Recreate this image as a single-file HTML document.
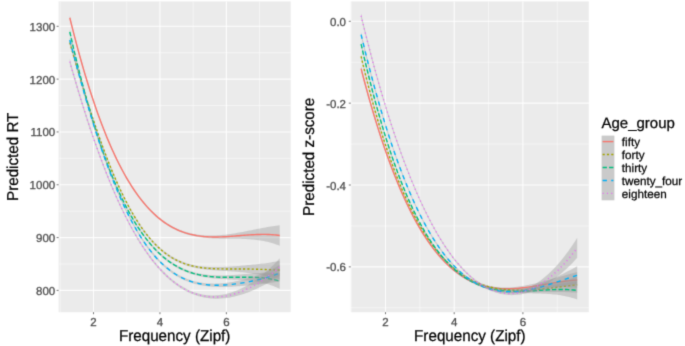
<!DOCTYPE html>
<html><head><meta charset="utf-8"><style>
html,body{margin:0;padding:0;background:#fff;width:685px;height:346px;overflow:hidden}
svg{display:block}
text{font-family:"Liberation Sans", sans-serif;text-rendering:geometricPrecision;stroke-width:0.3px;paint-order:stroke}
.tl{fill:#4D4D4D;stroke:#4D4D4D}
.tt{fill:#000;stroke:#000;stroke-width:0.25px}
</style></head><body>
<svg width="685" height="346" viewBox="0 0 685 346">
<defs><filter id="bl" filterUnits="userSpaceOnUse" x="0" y="0" width="685" height="346" color-interpolation-filters="sRGB"><feConvolveMatrix order="3" kernelMatrix="0.01917 0.10012 0.01917 0.10012 0.52283 0.10012 0.01917 0.10012 0.01917" divisor="1" edgeMode="duplicate"/></filter><clipPath id="cl"><rect x="58.6" y="1.4" width="232.10" height="310.80"/></clipPath>
<clipPath id="cr"><rect x="350.8" y="1.4" width="238.00" height="310.80"/></clipPath></defs>
<g filter="url(#bl)"><rect x="0" y="0" width="685" height="346" fill="#fff"/>
<rect x="58.6" y="1.4" width="232.10" height="310.80" fill="#EBEBEB"/>
<line x1="60.28" y1="1.4" x2="60.28" y2="312.2" stroke="#FFFFFF" stroke-opacity="0.7" stroke-width="0.7"/>
<line x1="126.72" y1="1.4" x2="126.72" y2="312.2" stroke="#FFFFFF" stroke-opacity="0.7" stroke-width="0.7"/>
<line x1="193.16" y1="1.4" x2="193.16" y2="312.2" stroke="#FFFFFF" stroke-opacity="0.7" stroke-width="0.7"/>
<line x1="259.60" y1="1.4" x2="259.60" y2="312.2" stroke="#FFFFFF" stroke-opacity="0.7" stroke-width="0.7"/>
<line x1="58.6" y1="263.99" x2="290.7" y2="263.99" stroke="#FFFFFF" stroke-opacity="0.7" stroke-width="0.7"/>
<line x1="58.6" y1="211.17" x2="290.7" y2="211.17" stroke="#FFFFFF" stroke-opacity="0.7" stroke-width="0.7"/>
<line x1="58.6" y1="158.35" x2="290.7" y2="158.35" stroke="#FFFFFF" stroke-opacity="0.7" stroke-width="0.7"/>
<line x1="58.6" y1="105.53" x2="290.7" y2="105.53" stroke="#FFFFFF" stroke-opacity="0.7" stroke-width="0.7"/>
<line x1="58.6" y1="52.71" x2="290.7" y2="52.71" stroke="#FFFFFF" stroke-opacity="0.7" stroke-width="0.7"/>
<line x1="93.50" y1="1.4" x2="93.50" y2="312.2" stroke="#FFFFFF" stroke-opacity="0.9" stroke-width="1.1"/>
<line x1="159.94" y1="1.4" x2="159.94" y2="312.2" stroke="#FFFFFF" stroke-opacity="0.9" stroke-width="1.1"/>
<line x1="226.38" y1="1.4" x2="226.38" y2="312.2" stroke="#FFFFFF" stroke-opacity="0.9" stroke-width="1.1"/>
<line x1="58.6" y1="290.40" x2="290.7" y2="290.40" stroke="#FFFFFF" stroke-opacity="0.9" stroke-width="1.1"/>
<line x1="58.6" y1="237.58" x2="290.7" y2="237.58" stroke="#FFFFFF" stroke-opacity="0.9" stroke-width="1.1"/>
<line x1="58.6" y1="184.76" x2="290.7" y2="184.76" stroke="#FFFFFF" stroke-opacity="0.9" stroke-width="1.1"/>
<line x1="58.6" y1="131.94" x2="290.7" y2="131.94" stroke="#FFFFFF" stroke-opacity="0.9" stroke-width="1.1"/>
<line x1="58.6" y1="79.12" x2="290.7" y2="79.12" stroke="#FFFFFF" stroke-opacity="0.9" stroke-width="1.1"/>
<line x1="58.6" y1="26.30" x2="290.7" y2="26.30" stroke="#FFFFFF" stroke-opacity="0.9" stroke-width="1.1"/>
<g><path d="M69.80,15.76 L71.56,22.95 L73.33,29.98 L75.09,36.85 L76.86,43.56 L78.62,50.13 L80.38,56.54 L82.15,62.81 L83.91,68.92 L85.67,74.90 L87.44,80.73 L89.20,86.41 L90.97,91.96 L92.73,97.37 L94.49,102.64 L96.26,107.78 L98.02,112.78 L99.79,117.65 L101.55,122.40 L103.31,127.01 L105.08,131.50 L106.84,135.87 L108.61,140.12 L110.37,144.24 L112.13,148.25 L113.90,152.13 L115.66,155.91 L117.42,159.57 L119.19,163.11 L120.95,166.55 L122.72,169.88 L124.48,173.11 L126.24,176.23 L128.01,179.24 L129.77,182.16 L131.54,184.97 L133.30,187.69 L135.06,190.31 L136.83,192.84 L138.59,195.27 L140.35,197.61 L142.12,199.87 L143.88,202.03 L145.65,204.11 L147.41,206.11 L149.17,208.02 L150.94,209.85 L152.70,211.61 L154.47,213.29 L156.23,214.89 L157.99,216.41 L159.76,217.87 L161.52,219.25 L163.28,220.56 L165.05,221.81 L166.81,222.99 L168.58,224.11 L170.34,225.17 L172.10,226.16 L173.87,227.09 L175.63,227.97 L177.40,228.79 L179.16,229.56 L180.92,230.27 L182.69,230.94 L184.45,231.55 L186.22,232.11 L187.98,232.62 L189.74,233.09 L191.51,233.51 L193.27,233.89 L195.03,234.23 L196.80,234.52 L198.56,234.77 L200.33,234.99 L202.09,235.17 L203.85,235.31 L205.62,235.42 L207.38,235.49 L209.15,235.53 L210.91,235.54 L212.67,235.52 L214.44,235.47 L216.20,235.40 L217.96,235.30 L219.73,235.17 L221.49,235.02 L223.26,234.85 L225.02,234.66 L226.78,234.45 L228.55,234.22 L230.31,233.98 L232.08,233.71 L233.84,233.44 L235.60,233.15 L237.37,232.85 L239.13,232.53 L240.89,232.21 L242.66,231.88 L244.42,231.54 L246.19,231.20 L247.95,230.85 L249.71,230.50 L251.48,230.15 L253.24,229.79 L255.01,229.44 L256.77,229.09 L258.53,228.74 L260.30,228.39 L262.06,228.05 L263.83,227.71 L265.59,227.39 L267.35,227.07 L269.12,226.76 L270.88,226.46 L272.64,226.17 L274.41,225.90 L276.17,225.64 L277.94,225.40 L279.70,225.17 L279.70,245.77 L277.94,245.08 L276.17,244.43 L274.41,243.83 L272.64,243.27 L270.88,242.75 L269.12,242.28 L267.35,241.85 L265.59,241.45 L263.83,241.09 L262.06,240.76 L260.30,240.47 L258.53,240.20 L256.77,239.97 L255.01,239.76 L253.24,239.58 L251.48,239.42 L249.71,239.28 L247.95,239.17 L246.19,239.07 L244.42,238.99 L242.66,238.92 L240.89,238.87 L239.13,238.83 L237.37,238.80 L235.60,238.77 L233.84,238.76 L232.08,238.75 L230.31,238.74 L228.55,238.73 L226.78,238.72 L225.02,238.71 L223.26,238.69 L221.49,238.67 L219.73,238.64 L217.96,238.60 L216.20,238.54 L214.44,238.48 L212.67,238.40 L210.91,238.30 L209.15,238.19 L207.38,238.05 L205.62,237.89 L203.85,237.71 L202.09,237.50 L200.33,237.26 L198.56,236.99 L196.80,236.69 L195.03,236.36 L193.27,235.99 L191.51,235.59 L189.74,235.14 L187.98,234.66 L186.22,234.13 L184.45,233.56 L182.69,232.94 L180.92,232.28 L179.16,231.56 L177.40,230.79 L175.63,229.97 L173.87,229.09 L172.10,228.16 L170.34,227.17 L168.58,226.11 L166.81,224.99 L165.05,223.81 L163.28,222.57 L161.52,221.25 L159.76,219.87 L157.99,218.42 L156.23,216.90 L154.47,215.30 L152.70,213.63 L150.94,211.88 L149.17,210.05 L147.41,208.14 L145.65,206.15 L143.88,204.08 L142.12,201.93 L140.35,199.68 L138.59,197.35 L136.83,194.93 L135.06,192.42 L133.30,189.81 L131.54,187.11 L129.77,184.31 L128.01,181.42 L126.24,178.42 L124.48,175.33 L122.72,172.13 L120.95,168.82 L119.19,165.41 L117.42,161.89 L115.66,158.26 L113.90,154.52 L112.13,150.67 L110.37,146.70 L108.61,142.62 L106.84,138.41 L105.08,134.09 L103.31,129.64 L101.55,125.08 L99.79,120.38 L98.02,115.56 L96.26,110.61 L94.49,105.53 L92.73,100.32 L90.97,94.98 L89.20,89.50 L87.44,83.88 L85.67,78.12 L83.91,72.22 L82.15,66.18 L80.38,60.00 L78.62,53.67 L76.86,47.19 L75.09,40.56 L73.33,33.78 L71.56,26.85 L69.80,19.76 Z" fill="#999999" fill-opacity="0.4"/>
<path d="M69.80,17.76 L71.56,24.90 L73.33,31.88 L75.09,38.70 L76.86,45.38 L78.62,51.90 L80.38,58.27 L82.15,64.49 L83.91,70.57 L85.67,76.51 L87.44,82.30 L89.20,87.95 L90.97,93.47 L92.73,98.84 L94.49,104.09 L96.26,109.19 L98.02,114.17 L99.79,119.02 L101.55,123.74 L103.31,128.33 L105.08,132.80 L106.84,137.14 L108.61,141.37 L110.37,145.47 L112.13,149.46 L113.90,153.33 L115.66,157.09 L117.42,160.73 L119.19,164.26 L120.95,167.69 L122.72,171.00 L124.48,174.22 L126.24,177.32 L128.01,180.33 L129.77,183.23 L131.54,186.04 L133.30,188.75 L135.06,191.36 L136.83,193.88 L138.59,196.31 L140.35,198.65 L142.12,200.90 L143.88,203.06 L145.65,205.13 L147.41,207.13 L149.17,209.04 L150.94,210.87 L152.70,212.62 L154.47,214.29 L156.23,215.89 L157.99,217.42 L159.76,218.87 L161.52,220.25 L163.28,221.57 L165.05,222.81 L166.81,223.99 L168.58,225.11 L170.34,226.17 L172.10,227.16 L173.87,228.09 L175.63,228.97 L177.40,229.79 L179.16,230.56 L180.92,231.28 L182.69,231.94 L184.45,232.55 L186.22,233.12 L187.98,233.64 L189.74,234.12 L191.51,234.55 L193.27,234.94 L195.03,235.29 L196.80,235.61 L198.56,235.88 L200.33,236.12 L202.09,236.33 L203.85,236.51 L205.62,236.65 L207.38,236.77 L209.15,236.86 L210.91,236.92 L212.67,236.96 L214.44,236.98 L216.20,236.97 L217.96,236.95 L219.73,236.90 L221.49,236.85 L223.26,236.77 L225.02,236.68 L226.78,236.58 L228.55,236.47 L230.31,236.36 L232.08,236.23 L233.84,236.10 L235.60,235.96 L237.37,235.82 L239.13,235.68 L240.89,235.54 L242.66,235.40 L244.42,235.27 L246.19,235.13 L247.95,235.01 L249.71,234.89 L251.48,234.78 L253.24,234.69 L255.01,234.60 L256.77,234.53 L258.53,234.47 L260.30,234.43 L262.06,234.40 L263.83,234.40 L265.59,234.42 L267.35,234.46 L269.12,234.52 L270.88,234.61 L272.64,234.72 L274.41,234.86 L276.17,235.04 L277.94,235.24 L279.70,235.47" fill="none" stroke="#F8766D" stroke-width="1.4"/>
<path d="M69.80,39.79 L71.56,46.04 L73.33,52.24 L75.09,58.39 L76.86,64.48 L78.62,70.52 L80.38,76.49 L82.15,82.40 L83.91,88.23 L85.67,93.99 L87.44,99.67 L89.20,105.27 L90.97,110.78 L92.73,116.21 L94.49,121.55 L96.26,126.80 L98.02,131.95 L99.79,137.01 L101.55,141.97 L103.31,146.83 L105.08,151.59 L106.84,156.25 L108.61,160.80 L110.37,165.25 L112.13,169.60 L113.90,173.84 L115.66,177.97 L117.42,181.99 L119.19,185.91 L120.95,189.72 L122.72,193.42 L124.48,197.01 L126.24,200.50 L128.01,203.88 L129.77,207.15 L131.54,210.32 L133.30,213.38 L135.06,216.34 L136.83,219.19 L138.59,221.94 L140.35,224.59 L142.12,227.14 L143.88,229.59 L145.65,231.94 L147.41,234.19 L149.17,236.35 L150.94,238.42 L152.70,240.39 L154.47,242.28 L156.23,244.07 L157.99,245.78 L159.76,247.40 L161.52,248.94 L163.28,250.40 L165.05,251.79 L166.81,253.09 L168.58,254.32 L170.34,255.48 L172.10,256.57 L173.87,257.59 L175.63,258.54 L177.40,259.43 L179.16,260.26 L180.92,261.03 L182.69,261.74 L184.45,262.40 L186.22,263.01 L187.98,263.56 L189.74,264.06 L191.51,264.52 L193.27,264.93 L195.03,265.30 L196.80,265.63 L198.56,265.92 L200.33,266.17 L202.09,266.38 L203.85,266.57 L205.62,266.72 L207.38,266.84 L209.15,266.94 L210.91,267.01 L212.67,267.06 L214.44,267.08 L216.20,267.09 L217.96,267.07 L219.73,267.04 L221.49,266.99 L223.26,266.93 L225.02,266.85 L226.78,266.76 L228.55,266.66 L230.31,266.56 L232.08,266.44 L233.84,266.31 L235.60,266.18 L237.37,266.04 L239.13,265.90 L240.89,265.75 L242.66,265.60 L244.42,265.44 L246.19,265.28 L247.95,265.11 L249.71,264.94 L251.48,264.76 L253.24,264.59 L255.01,264.40 L256.77,264.21 L258.53,264.02 L260.30,263.82 L262.06,263.61 L263.83,263.39 L265.59,263.16 L267.35,262.92 L269.12,262.67 L270.88,262.40 L272.64,262.11 L274.41,261.81 L276.17,261.49 L277.94,261.14 L279.70,260.77 L279.70,279.17 L277.94,278.75 L276.17,278.33 L274.41,277.91 L272.64,277.50 L270.88,277.09 L269.12,276.70 L267.35,276.31 L265.59,275.93 L263.83,275.57 L262.06,275.22 L260.30,274.88 L258.53,274.56 L256.77,274.25 L255.01,273.96 L253.24,273.68 L251.48,273.42 L249.71,273.17 L247.95,272.94 L246.19,272.72 L244.42,272.52 L242.66,272.33 L240.89,272.15 L239.13,271.99 L237.37,271.84 L235.60,271.70 L233.84,271.57 L232.08,271.45 L230.31,271.33 L228.55,271.22 L226.78,271.11 L225.02,271.01 L223.26,270.91 L221.49,270.80 L219.73,270.70 L217.96,270.59 L216.20,270.47 L214.44,270.35 L212.67,270.21 L210.91,270.07 L209.15,269.90 L207.38,269.73 L205.62,269.53 L203.85,269.31 L202.09,269.07 L200.33,268.80 L198.56,268.50 L196.80,268.18 L195.03,267.81 L193.27,267.42 L191.51,266.98 L189.74,266.51 L187.98,265.99 L186.22,265.43 L184.45,264.81 L182.69,264.15 L180.92,263.44 L179.16,262.66 L177.40,261.83 L175.63,260.94 L173.87,259.99 L172.10,258.97 L170.34,257.88 L168.58,256.72 L166.81,255.49 L165.05,254.19 L163.28,252.81 L161.52,251.35 L159.76,249.81 L157.99,248.19 L156.23,246.49 L154.47,244.70 L152.70,242.82 L150.94,240.85 L149.17,238.80 L147.41,236.65 L145.65,234.40 L143.88,232.07 L142.12,229.63 L140.35,227.10 L138.59,224.47 L136.83,221.73 L135.06,218.90 L133.30,215.97 L131.54,212.93 L129.77,209.79 L128.01,206.55 L126.24,203.20 L124.48,199.74 L122.72,196.19 L120.95,192.52 L119.19,188.75 L117.42,184.88 L115.66,180.90 L113.90,176.82 L112.13,172.64 L110.37,168.35 L108.61,163.96 L106.84,159.46 L105.08,154.87 L103.31,150.18 L101.55,145.39 L99.79,140.51 L98.02,135.53 L96.26,130.46 L94.49,125.29 L92.73,120.05 L90.97,114.71 L89.20,109.29 L87.44,103.80 L85.67,98.22 L83.91,92.58 L82.15,86.86 L80.38,81.07 L78.62,75.22 L76.86,69.32 L75.09,63.36 L73.33,57.35 L71.56,51.29 L69.80,45.19 Z" fill="#999999" fill-opacity="0.4"/>
<path d="M69.80,42.49 L71.56,48.66 L73.33,54.79 L75.09,60.87 L76.86,66.90 L78.62,72.87 L80.38,78.78 L82.15,84.63 L83.91,90.40 L85.67,96.11 L87.44,101.73 L89.20,107.28 L90.97,112.75 L92.73,118.13 L94.49,123.42 L96.26,128.63 L98.02,133.74 L99.79,138.76 L101.55,143.68 L103.31,148.51 L105.08,153.23 L106.84,157.86 L108.61,162.38 L110.37,166.80 L112.13,171.12 L113.90,175.33 L115.66,179.44 L117.42,183.44 L119.19,187.33 L120.95,191.12 L122.72,194.80 L124.48,198.38 L126.24,201.85 L128.01,205.21 L129.77,208.47 L131.54,211.63 L133.30,214.68 L135.06,217.62 L136.83,220.46 L138.59,223.20 L140.35,225.84 L142.12,228.39 L143.88,230.83 L145.65,233.17 L147.41,235.42 L149.17,237.57 L150.94,239.64 L152.70,241.61 L154.47,243.49 L156.23,245.28 L157.99,246.99 L159.76,248.61 L161.52,250.15 L163.28,251.61 L165.05,252.99 L166.81,254.29 L168.58,255.52 L170.34,256.68 L172.10,257.77 L173.87,258.79 L175.63,259.74 L177.40,260.63 L179.16,261.46 L180.92,262.23 L182.69,262.95 L184.45,263.61 L186.22,264.22 L187.98,264.77 L189.74,265.29 L191.51,265.75 L193.27,266.17 L195.03,266.56 L196.80,266.90 L198.56,267.21 L200.33,267.48 L202.09,267.73 L203.85,267.94 L205.62,268.12 L207.38,268.29 L209.15,268.42 L210.91,268.54 L212.67,268.64 L214.44,268.72 L216.20,268.78 L217.96,268.83 L219.73,268.87 L221.49,268.90 L223.26,268.92 L225.02,268.93 L226.78,268.94 L228.55,268.94 L230.31,268.94 L232.08,268.94 L233.84,268.94 L235.60,268.94 L237.37,268.94 L239.13,268.95 L240.89,268.95 L242.66,268.96 L244.42,268.98 L246.19,269.00 L247.95,269.02 L249.71,269.05 L251.48,269.09 L253.24,269.13 L255.01,269.18 L256.77,269.23 L258.53,269.29 L260.30,269.35 L262.06,269.41 L263.83,269.48 L265.59,269.55 L267.35,269.61 L269.12,269.68 L270.88,269.75 L272.64,269.81 L274.41,269.86 L276.17,269.91 L277.94,269.94 L279.70,269.97" fill="none" stroke="#A3A500" stroke-width="1.4" stroke-dasharray="2.16 2.16"/>
<path d="M69.80,29.21 L71.56,37.10 L73.33,44.81 L75.09,52.34 L76.86,59.71 L78.62,66.91 L80.38,73.94 L82.15,80.81 L83.91,87.52 L85.67,94.07 L87.44,100.46 L89.20,106.70 L90.97,112.78 L92.73,118.72 L94.49,124.51 L96.26,130.15 L98.02,135.65 L99.79,141.00 L101.55,146.22 L103.31,151.30 L105.08,156.24 L106.84,161.05 L108.61,165.72 L110.37,170.27 L112.13,174.69 L113.90,178.98 L115.66,183.15 L117.42,187.19 L119.19,191.12 L120.95,194.93 L122.72,198.62 L124.48,202.20 L126.24,205.66 L128.01,209.01 L129.77,212.26 L131.54,215.40 L133.30,218.43 L135.06,221.37 L136.83,224.20 L138.59,226.93 L140.35,229.56 L142.12,232.10 L143.88,234.54 L145.65,236.89 L147.41,239.15 L149.17,241.33 L150.94,243.41 L152.70,245.41 L154.47,247.33 L156.23,249.17 L157.99,250.93 L159.76,252.61 L161.52,254.21 L163.28,255.75 L165.05,257.20 L166.81,258.59 L168.58,259.91 L170.34,261.16 L172.10,262.35 L173.87,263.47 L175.63,264.53 L177.40,265.53 L179.16,266.48 L180.92,267.36 L182.69,268.19 L184.45,268.97 L186.22,269.69 L187.98,270.36 L189.74,270.99 L191.51,271.56 L193.27,272.09 L195.03,272.57 L196.80,273.01 L198.56,273.41 L200.33,273.77 L202.09,274.09 L203.85,274.37 L205.62,274.62 L207.38,274.83 L209.15,275.01 L210.91,275.15 L212.67,275.27 L214.44,275.36 L216.20,275.42 L217.96,275.46 L219.73,275.47 L221.49,275.47 L223.26,275.44 L225.02,275.39 L226.78,275.33 L228.55,275.25 L230.31,275.15 L232.08,275.04 L233.84,274.93 L235.60,274.80 L237.37,274.66 L239.13,274.52 L240.89,274.38 L242.66,274.23 L244.42,274.08 L246.19,273.93 L247.95,273.78 L249.71,273.63 L251.48,273.49 L253.24,273.36 L255.01,273.24 L256.77,273.13 L258.53,273.02 L260.30,272.94 L262.06,272.86 L263.83,272.81 L265.59,272.77 L267.35,272.76 L269.12,272.76 L270.88,272.79 L272.64,272.85 L274.41,272.93 L276.17,273.05 L277.94,273.19 L279.70,273.37 L279.70,288.77 L277.94,287.95 L276.17,287.18 L274.41,286.47 L272.64,285.80 L270.88,285.18 L269.12,284.61 L267.35,284.09 L265.59,283.60 L263.83,283.16 L262.06,282.75 L260.30,282.38 L258.53,282.04 L256.77,281.73 L255.01,281.45 L253.24,281.20 L251.48,280.97 L249.71,280.77 L247.95,280.59 L246.19,280.43 L244.42,280.28 L242.66,280.15 L240.89,280.03 L239.13,279.92 L237.37,279.82 L235.60,279.73 L233.84,279.65 L232.08,279.56 L230.31,279.48 L228.55,279.40 L226.78,279.31 L225.02,279.22 L223.26,279.12 L221.49,279.01 L219.73,278.90 L217.96,278.77 L216.20,278.62 L214.44,278.46 L212.67,278.28 L210.91,278.08 L209.15,277.86 L207.38,277.62 L205.62,277.35 L203.85,277.05 L202.09,276.72 L200.33,276.36 L198.56,275.96 L196.80,275.53 L195.03,275.07 L193.27,274.56 L191.51,274.01 L189.74,273.43 L187.98,272.79 L186.22,272.11 L184.45,271.38 L182.69,270.60 L180.92,269.77 L179.16,268.88 L177.40,267.93 L175.63,266.93 L173.87,265.87 L172.10,264.75 L170.34,263.56 L168.58,262.31 L166.81,260.99 L165.05,259.61 L163.28,258.15 L161.52,256.62 L159.76,255.02 L157.99,253.34 L156.23,251.59 L154.47,249.76 L152.70,247.84 L150.94,245.85 L149.17,243.77 L147.41,241.61 L145.65,239.36 L143.88,237.02 L142.12,234.59 L140.35,232.06 L138.59,229.45 L136.83,226.74 L135.06,223.93 L133.30,221.02 L131.54,218.01 L129.77,214.90 L128.01,211.68 L126.24,208.36 L124.48,204.93 L122.72,201.38 L120.95,197.73 L119.19,193.96 L117.42,190.08 L115.66,186.08 L113.90,181.96 L112.13,177.72 L110.37,173.36 L108.61,168.87 L106.84,164.26 L105.08,159.52 L103.31,154.64 L101.55,149.64 L99.79,144.50 L98.02,139.22 L96.26,133.81 L94.49,128.25 L92.73,122.55 L90.97,116.71 L89.20,110.72 L87.44,104.59 L85.67,98.30 L83.91,91.86 L82.15,85.27 L80.38,78.52 L78.62,71.61 L76.86,64.54 L75.09,57.31 L73.33,49.91 L71.56,42.35 L69.80,34.61 Z" fill="#999999" fill-opacity="0.4"/>
<path d="M69.80,31.91 L71.56,39.72 L73.33,47.36 L75.09,54.83 L76.86,62.12 L78.62,69.26 L80.38,76.23 L82.15,83.04 L83.91,89.69 L85.67,96.18 L87.44,102.52 L89.20,108.71 L90.97,114.75 L92.73,120.64 L94.49,126.38 L96.26,131.98 L98.02,137.43 L99.79,142.75 L101.55,147.93 L103.31,152.97 L105.08,157.88 L106.84,162.65 L108.61,167.30 L110.37,171.81 L112.13,176.20 L113.90,180.47 L115.66,184.61 L117.42,188.64 L119.19,192.54 L120.95,196.33 L122.72,200.00 L124.48,203.56 L126.24,207.01 L128.01,210.35 L129.77,213.58 L131.54,216.70 L133.30,219.73 L135.06,222.65 L136.83,225.47 L138.59,228.19 L140.35,230.81 L142.12,233.34 L143.88,235.78 L145.65,238.12 L147.41,240.38 L149.17,242.55 L150.94,244.63 L152.70,246.63 L154.47,248.54 L156.23,250.38 L157.99,252.14 L159.76,253.81 L161.52,255.42 L163.28,256.95 L165.05,258.40 L166.81,259.79 L168.58,261.11 L170.34,262.36 L172.10,263.55 L173.87,264.67 L175.63,265.73 L177.40,266.73 L179.16,267.68 L180.92,268.56 L182.69,269.40 L184.45,270.17 L186.22,270.90 L187.98,271.58 L189.74,272.21 L191.51,272.79 L193.27,273.33 L195.03,273.82 L196.80,274.27 L198.56,274.69 L200.33,275.06 L202.09,275.40 L203.85,275.71 L205.62,275.98 L207.38,276.22 L209.15,276.43 L210.91,276.62 L212.67,276.78 L214.44,276.91 L216.20,277.02 L217.96,277.11 L219.73,277.19 L221.49,277.24 L223.26,277.28 L225.02,277.30 L226.78,277.32 L228.55,277.32 L230.31,277.32 L232.08,277.30 L233.84,277.29 L235.60,277.27 L237.37,277.24 L239.13,277.22 L240.89,277.20 L242.66,277.19 L244.42,277.18 L246.19,277.18 L247.95,277.18 L249.71,277.20 L251.48,277.23 L253.24,277.28 L255.01,277.35 L256.77,277.43 L258.53,277.53 L260.30,277.66 L262.06,277.81 L263.83,277.98 L265.59,278.19 L267.35,278.42 L269.12,278.69 L270.88,278.99 L272.64,279.33 L274.41,279.70 L276.17,280.11 L277.94,280.57 L279.70,281.07" fill="none" stroke="#00BF7D" stroke-width="1.4" stroke-dasharray="4.32 2.16"/>
<path d="M69.80,37.32 L71.56,44.19 L73.33,50.97 L75.09,57.68 L76.86,64.31 L78.62,70.85 L80.38,77.31 L82.15,83.67 L83.91,89.94 L85.67,96.12 L87.44,102.21 L89.20,108.19 L90.97,114.07 L92.73,119.86 L94.49,125.54 L96.26,131.11 L98.02,136.58 L99.79,141.95 L101.55,147.20 L103.31,152.35 L105.08,157.39 L106.84,162.32 L108.61,167.14 L110.37,171.85 L112.13,176.44 L113.90,180.93 L115.66,185.30 L117.42,189.57 L119.19,193.72 L120.95,197.76 L122.72,201.69 L124.48,205.52 L126.24,209.23 L128.01,212.83 L129.77,216.33 L131.54,219.72 L133.30,223.00 L135.06,226.17 L136.83,229.25 L138.59,232.21 L140.35,235.08 L142.12,237.84 L143.88,240.51 L145.65,243.07 L147.41,245.54 L149.17,247.91 L150.94,250.19 L152.70,252.37 L154.47,254.47 L156.23,256.47 L157.99,258.39 L159.76,260.22 L161.52,261.96 L163.28,263.62 L165.05,265.20 L166.81,266.70 L168.58,268.12 L170.34,269.47 L172.10,270.74 L173.87,271.95 L175.63,273.08 L177.40,274.14 L179.16,275.14 L180.92,276.07 L182.69,276.93 L184.45,277.74 L186.22,278.49 L187.98,279.18 L189.74,279.81 L191.51,280.39 L193.27,280.91 L195.03,281.38 L196.80,281.81 L198.56,282.18 L200.33,282.51 L202.09,282.79 L203.85,283.03 L205.62,283.22 L207.38,283.38 L209.15,283.50 L210.91,283.58 L212.67,283.62 L214.44,283.63 L216.20,283.60 L217.96,283.54 L219.73,283.45 L221.49,283.32 L223.26,283.17 L225.02,282.99 L226.78,282.78 L228.55,282.55 L230.31,282.29 L232.08,282.00 L233.84,281.69 L235.60,281.36 L237.37,281.00 L239.13,280.62 L240.89,280.21 L242.66,279.78 L244.42,279.33 L246.19,278.86 L247.95,278.36 L249.71,277.85 L251.48,277.31 L253.24,276.74 L255.01,276.15 L256.77,275.54 L258.53,274.90 L260.30,274.24 L262.06,273.55 L263.83,272.83 L265.59,272.08 L267.35,271.31 L269.12,270.50 L270.88,269.66 L272.64,268.78 L274.41,267.87 L276.17,266.92 L277.94,265.93 L279.70,264.89 L279.70,281.29 L277.94,281.63 L276.17,281.95 L274.41,282.26 L272.64,282.54 L270.88,282.82 L269.12,283.08 L267.35,283.33 L265.59,283.56 L263.83,283.79 L262.06,284.01 L260.30,284.22 L258.53,284.43 L256.77,284.62 L255.01,284.81 L253.24,285.00 L251.48,285.18 L249.71,285.35 L247.95,285.52 L246.19,285.68 L244.42,285.83 L242.66,285.98 L240.89,286.12 L239.13,286.25 L237.37,286.37 L235.60,286.49 L233.84,286.59 L232.08,286.68 L230.31,286.77 L228.55,286.83 L226.78,286.89 L225.02,286.93 L223.26,286.95 L221.49,286.96 L219.73,286.95 L217.96,286.92 L216.20,286.86 L214.44,286.78 L212.67,286.68 L210.91,286.55 L209.15,286.39 L207.38,286.20 L205.62,285.98 L203.85,285.73 L202.09,285.44 L200.33,285.11 L198.56,284.74 L196.80,284.33 L195.03,283.88 L193.27,283.39 L191.51,282.84 L189.74,282.25 L187.98,281.60 L186.22,280.91 L184.45,280.15 L182.69,279.34 L180.92,278.47 L179.16,277.54 L177.40,276.54 L175.63,275.48 L173.87,274.35 L172.10,273.14 L170.34,271.87 L168.58,270.52 L166.81,269.10 L165.05,267.60 L163.28,266.02 L161.52,264.37 L159.76,262.62 L157.99,260.80 L156.23,258.89 L154.47,256.89 L152.70,254.80 L150.94,252.63 L149.17,250.36 L147.41,247.99 L145.65,245.54 L143.88,242.98 L142.12,240.33 L140.35,237.58 L138.59,234.74 L136.83,231.79 L135.06,228.74 L133.30,225.58 L131.54,222.33 L129.77,218.96 L128.01,215.50 L126.24,211.93 L124.48,208.25 L122.72,204.46 L120.95,200.57 L119.19,196.57 L117.42,192.46 L115.66,188.24 L113.90,183.91 L112.13,179.48 L110.37,174.94 L108.61,170.29 L106.84,165.53 L105.08,160.67 L103.31,155.70 L101.55,150.62 L99.79,145.44 L98.02,140.16 L96.26,134.77 L94.49,129.28 L92.73,123.69 L90.97,118.00 L89.20,112.21 L87.44,106.33 L85.67,100.36 L83.91,94.29 L82.15,88.13 L80.38,81.89 L78.62,75.56 L76.86,69.14 L75.09,62.65 L73.33,56.08 L71.56,49.44 L69.80,42.72 Z" fill="#999999" fill-opacity="0.4"/>
<path d="M69.80,40.02 L71.56,46.81 L73.33,53.53 L75.09,60.17 L76.86,66.73 L78.62,73.20 L80.38,79.60 L82.15,85.90 L83.91,92.12 L85.67,98.24 L87.44,104.27 L89.20,110.20 L90.97,116.04 L92.73,121.77 L94.49,127.41 L96.26,132.94 L98.02,138.37 L99.79,143.69 L101.55,148.91 L103.31,154.02 L105.08,159.03 L106.84,163.93 L108.61,168.71 L110.37,173.39 L112.13,177.96 L113.90,182.42 L115.66,186.77 L117.42,191.01 L119.19,195.14 L120.95,199.16 L122.72,203.08 L124.48,206.88 L126.24,210.58 L128.01,214.17 L129.77,217.65 L131.54,221.02 L133.30,224.29 L135.06,227.46 L136.83,230.52 L138.59,233.48 L140.35,236.33 L142.12,239.09 L143.88,241.75 L145.65,244.30 L147.41,246.77 L149.17,249.13 L150.94,251.41 L152.70,253.59 L154.47,255.68 L156.23,257.68 L157.99,259.59 L159.76,261.42 L161.52,263.16 L163.28,264.82 L165.05,266.40 L166.81,267.90 L168.58,269.32 L170.34,270.67 L172.10,271.94 L173.87,273.15 L175.63,274.28 L177.40,275.34 L179.16,276.34 L180.92,277.27 L182.69,278.14 L184.45,278.95 L186.22,279.70 L187.98,280.39 L189.74,281.03 L191.51,281.61 L193.27,282.15 L195.03,282.63 L196.80,283.07 L198.56,283.46 L200.33,283.81 L202.09,284.11 L203.85,284.38 L205.62,284.60 L207.38,284.79 L209.15,284.94 L210.91,285.06 L212.67,285.15 L214.44,285.20 L216.20,285.23 L217.96,285.23 L219.73,285.20 L221.49,285.14 L223.26,285.06 L225.02,284.96 L226.78,284.84 L228.55,284.69 L230.31,284.53 L232.08,284.34 L233.84,284.14 L235.60,283.92 L237.37,283.68 L239.13,283.43 L240.89,283.16 L242.66,282.88 L244.42,282.58 L246.19,282.27 L247.95,281.94 L249.71,281.60 L251.48,281.24 L253.24,280.87 L255.01,280.48 L256.77,280.08 L258.53,279.66 L260.30,279.23 L262.06,278.78 L263.83,278.31 L265.59,277.82 L267.35,277.32 L269.12,276.79 L270.88,276.24 L272.64,275.66 L274.41,275.06 L276.17,274.43 L277.94,273.78 L279.70,273.09" fill="none" stroke="#00B0F6" stroke-width="1.4" stroke-dasharray="4.32 4.32"/>
<path d="M69.80,58.87 L71.56,65.18 L73.33,71.41 L75.09,77.54 L76.86,83.59 L78.62,89.55 L80.38,95.42 L82.15,101.21 L83.91,106.90 L85.67,112.50 L87.44,118.01 L89.20,123.44 L90.97,128.77 L92.73,134.01 L94.49,139.16 L96.26,144.22 L98.02,149.19 L99.79,154.06 L101.55,158.85 L103.31,163.55 L105.08,168.15 L106.84,172.66 L108.61,177.09 L110.37,181.42 L112.13,185.66 L113.90,189.82 L115.66,193.88 L117.42,197.85 L119.19,201.74 L120.95,205.53 L122.72,209.24 L124.48,212.86 L126.24,216.40 L128.01,219.84 L129.77,223.20 L131.54,226.47 L133.30,229.66 L135.06,232.76 L136.83,235.78 L138.59,238.72 L140.35,241.57 L142.12,244.34 L143.88,247.02 L145.65,249.63 L147.41,252.15 L149.17,254.60 L150.94,256.96 L152.70,259.25 L154.47,261.46 L156.23,263.59 L157.99,265.64 L159.76,267.62 L161.52,269.53 L163.28,271.36 L165.05,273.12 L166.81,274.80 L168.58,276.42 L170.34,277.96 L172.10,279.43 L173.87,280.83 L175.63,282.17 L177.40,283.43 L179.16,284.63 L180.92,285.77 L182.69,286.83 L184.45,287.84 L186.22,288.77 L187.98,289.64 L189.74,290.45 L191.51,291.20 L193.27,291.88 L195.03,292.50 L196.80,293.06 L198.56,293.56 L200.33,294.00 L202.09,294.38 L203.85,294.70 L205.62,294.96 L207.38,295.17 L209.15,295.32 L210.91,295.40 L212.67,295.44 L214.44,295.41 L216.20,295.34 L217.96,295.20 L219.73,295.02 L221.49,294.77 L223.26,294.48 L225.02,294.13 L226.78,293.73 L228.55,293.27 L230.31,292.77 L232.08,292.21 L233.84,291.60 L235.60,290.94 L237.37,290.23 L239.13,289.47 L240.89,288.66 L242.66,287.80 L244.42,286.89 L246.19,285.93 L247.95,284.92 L249.71,283.86 L251.48,282.76 L253.24,281.60 L255.01,280.39 L256.77,279.14 L258.53,277.84 L260.30,276.49 L262.06,275.09 L263.83,273.64 L265.59,272.14 L267.35,270.59 L269.12,269.00 L270.88,267.35 L272.64,265.66 L274.41,263.91 L276.17,262.12 L277.94,260.27 L279.70,258.37 L279.70,275.77 L277.94,276.93 L276.17,278.05 L274.41,279.15 L272.64,280.23 L270.88,281.28 L269.12,282.30 L267.35,283.30 L265.59,284.27 L263.83,285.21 L262.06,286.12 L260.30,287.01 L258.53,287.87 L256.77,288.70 L255.01,289.50 L253.24,290.27 L251.48,291.02 L249.71,291.73 L247.95,292.41 L246.19,293.06 L244.42,293.68 L242.66,294.26 L240.89,294.82 L239.13,295.33 L237.37,295.82 L235.60,296.27 L233.84,296.68 L232.08,297.06 L230.31,297.39 L228.55,297.69 L226.78,297.96 L225.02,298.18 L223.26,298.36 L221.49,298.50 L219.73,298.60 L217.96,298.65 L216.20,298.66 L214.44,298.63 L212.67,298.55 L210.91,298.42 L209.15,298.24 L207.38,298.02 L205.62,297.75 L203.85,297.42 L202.09,297.05 L200.33,296.62 L198.56,296.14 L196.80,295.60 L195.03,295.01 L193.27,294.37 L191.51,293.66 L189.74,292.90 L187.98,292.07 L186.22,291.19 L184.45,290.25 L182.69,289.24 L180.92,288.17 L179.16,287.03 L177.40,285.83 L175.63,284.57 L173.87,283.23 L172.10,281.83 L170.34,280.36 L168.58,278.82 L166.81,277.20 L165.05,275.52 L163.28,273.76 L161.52,271.93 L159.76,270.03 L157.99,268.06 L156.23,266.01 L154.47,263.88 L152.70,261.68 L150.94,259.40 L149.17,257.04 L147.41,254.61 L145.65,252.09 L143.88,249.50 L142.12,246.83 L140.35,244.07 L138.59,241.24 L136.83,238.32 L135.06,235.33 L133.30,232.25 L131.54,229.08 L129.77,225.84 L128.01,222.51 L126.24,219.09 L124.48,215.59 L122.72,212.01 L120.95,208.34 L119.19,204.58 L117.42,200.74 L115.66,196.81 L113.90,192.80 L112.13,188.70 L110.37,184.51 L108.61,180.24 L106.84,175.88 L105.08,171.43 L103.31,166.89 L101.55,162.27 L99.79,157.56 L98.02,152.76 L96.26,147.87 L94.49,142.90 L92.73,137.84 L90.97,132.70 L89.20,127.46 L87.44,122.14 L85.67,116.74 L83.91,111.24 L82.15,105.67 L80.38,100.00 L78.62,94.26 L76.86,88.43 L75.09,82.51 L73.33,76.51 L71.56,70.43 L69.80,64.27 Z" fill="#999999" fill-opacity="0.4"/>
<path d="M69.80,61.57 L71.56,67.81 L73.33,73.96 L75.09,80.03 L76.86,86.01 L78.62,91.91 L80.38,97.71 L82.15,103.44 L83.91,109.07 L85.67,114.62 L87.44,120.08 L89.20,125.45 L90.97,130.73 L92.73,135.93 L94.49,141.03 L96.26,146.05 L98.02,150.97 L99.79,155.81 L101.55,160.56 L103.31,165.22 L105.08,169.79 L106.84,174.27 L108.61,178.66 L110.37,182.97 L112.13,187.18 L113.90,191.31 L115.66,195.35 L117.42,199.30 L119.19,203.16 L120.95,206.94 L122.72,210.63 L124.48,214.23 L126.24,217.74 L128.01,221.17 L129.77,224.52 L131.54,227.78 L133.30,230.95 L135.06,234.04 L136.83,237.05 L138.59,239.98 L140.35,242.82 L142.12,245.58 L143.88,248.26 L145.65,250.86 L147.41,253.38 L149.17,255.82 L150.94,258.18 L152.70,260.46 L154.47,262.67 L156.23,264.80 L157.99,266.85 L159.76,268.83 L161.52,270.73 L163.28,272.56 L165.05,274.32 L166.81,276.00 L168.58,277.62 L170.34,279.16 L172.10,280.63 L173.87,282.03 L175.63,283.37 L177.40,284.63 L179.16,285.83 L180.92,286.97 L182.69,288.04 L184.45,289.04 L186.22,289.98 L187.98,290.86 L189.74,291.68 L191.51,292.43 L193.27,293.12 L195.03,293.76 L196.80,294.33 L198.56,294.85 L200.33,295.31 L202.09,295.72 L203.85,296.06 L205.62,296.36 L207.38,296.59 L209.15,296.78 L210.91,296.91 L212.67,296.99 L214.44,297.02 L216.20,297.00 L217.96,296.93 L219.73,296.81 L221.49,296.64 L223.26,296.42 L225.02,296.15 L226.78,295.84 L228.55,295.48 L230.31,295.08 L232.08,294.63 L233.84,294.14 L235.60,293.60 L237.37,293.02 L239.13,292.40 L240.89,291.74 L242.66,291.03 L244.42,290.28 L246.19,289.49 L247.95,288.67 L249.71,287.80 L251.48,286.89 L253.24,285.94 L255.01,284.95 L256.77,283.92 L258.53,282.85 L260.30,281.75 L262.06,280.61 L263.83,279.42 L265.59,278.20 L267.35,276.95 L269.12,275.65 L270.88,274.32 L272.64,272.94 L274.41,271.53 L276.17,270.08 L277.94,268.60 L279.70,267.07" fill="none" stroke="#E76BF3" stroke-width="1.4" stroke-dasharray="1.08 3.24"/></g>
<rect x="350.8" y="1.4" width="238.00" height="310.80" fill="#EBEBEB"/>
<line x1="351.15" y1="1.4" x2="351.15" y2="312.2" stroke="#FFFFFF" stroke-opacity="0.7" stroke-width="0.7"/>
<line x1="419.85" y1="1.4" x2="419.85" y2="312.2" stroke="#FFFFFF" stroke-opacity="0.7" stroke-width="0.7"/>
<line x1="488.55" y1="1.4" x2="488.55" y2="312.2" stroke="#FFFFFF" stroke-opacity="0.7" stroke-width="0.7"/>
<line x1="557.25" y1="1.4" x2="557.25" y2="312.2" stroke="#FFFFFF" stroke-opacity="0.7" stroke-width="0.7"/>
<line x1="350.8" y1="62.23" x2="588.8" y2="62.23" stroke="#FFFFFF" stroke-opacity="0.7" stroke-width="0.7"/>
<line x1="350.8" y1="144.07" x2="588.8" y2="144.07" stroke="#FFFFFF" stroke-opacity="0.7" stroke-width="0.7"/>
<line x1="350.8" y1="225.93" x2="588.8" y2="225.93" stroke="#FFFFFF" stroke-opacity="0.7" stroke-width="0.7"/>
<line x1="350.8" y1="307.77" x2="588.8" y2="307.77" stroke="#FFFFFF" stroke-opacity="0.7" stroke-width="0.7"/>
<line x1="385.50" y1="1.4" x2="385.50" y2="312.2" stroke="#FFFFFF" stroke-opacity="0.9" stroke-width="1.1"/>
<line x1="454.20" y1="1.4" x2="454.20" y2="312.2" stroke="#FFFFFF" stroke-opacity="0.9" stroke-width="1.1"/>
<line x1="522.90" y1="1.4" x2="522.90" y2="312.2" stroke="#FFFFFF" stroke-opacity="0.9" stroke-width="1.1"/>
<line x1="350.8" y1="21.30" x2="588.8" y2="21.30" stroke="#FFFFFF" stroke-opacity="0.9" stroke-width="1.1"/>
<line x1="350.8" y1="103.15" x2="588.8" y2="103.15" stroke="#FFFFFF" stroke-opacity="0.9" stroke-width="1.1"/>
<line x1="350.8" y1="185.00" x2="588.8" y2="185.00" stroke="#FFFFFF" stroke-opacity="0.9" stroke-width="1.1"/>
<line x1="350.8" y1="266.85" x2="588.8" y2="266.85" stroke="#FFFFFF" stroke-opacity="0.9" stroke-width="1.1"/>
<g><path d="M361.10,66.16 L362.92,73.21 L364.73,80.12 L366.55,86.88 L368.36,93.50 L370.18,99.97 L372.00,106.30 L373.81,112.49 L375.63,118.54 L377.44,124.46 L379.26,130.23 L381.08,135.88 L382.89,141.39 L384.71,146.77 L386.52,152.02 L388.34,157.14 L390.16,162.14 L391.97,167.01 L393.79,171.76 L395.60,176.39 L397.42,180.89 L399.24,185.28 L401.05,189.55 L402.87,193.70 L404.68,197.74 L406.50,201.67 L408.32,205.48 L410.13,209.19 L411.95,212.78 L413.76,216.27 L415.58,219.66 L417.39,222.94 L419.21,226.12 L421.03,229.20 L422.84,232.18 L424.66,235.06 L426.47,237.84 L428.29,240.53 L430.11,243.13 L431.92,245.63 L433.74,248.05 L435.55,250.38 L437.37,252.62 L439.19,254.77 L441.00,256.84 L442.82,258.83 L444.63,260.73 L446.45,262.56 L448.27,264.31 L450.08,265.98 L451.90,267.57 L453.71,269.09 L455.53,270.54 L457.35,271.92 L459.16,273.23 L460.98,274.48 L462.79,275.65 L464.61,276.76 L466.43,277.81 L468.24,278.80 L470.06,279.72 L471.87,280.59 L473.69,281.40 L475.51,282.15 L477.32,282.85 L479.14,283.50 L480.95,284.09 L482.77,284.63 L484.59,285.12 L486.40,285.56 L488.22,285.95 L490.03,286.29 L491.85,286.59 L493.67,286.85 L495.48,287.06 L497.30,287.24 L499.11,287.37 L500.93,287.46 L502.75,287.51 L504.56,287.53 L506.38,287.51 L508.19,287.46 L510.01,287.38 L511.83,287.26 L513.64,287.11 L515.46,286.93 L517.27,286.73 L519.09,286.50 L520.91,286.24 L522.72,285.95 L524.54,285.65 L526.35,285.32 L528.17,284.97 L529.98,284.60 L531.80,284.21 L533.62,283.81 L535.43,283.39 L537.25,282.95 L539.06,282.50 L540.88,282.04 L542.70,281.57 L544.51,281.09 L546.33,280.60 L548.14,280.10 L549.96,279.59 L551.78,279.08 L553.59,278.56 L555.41,278.05 L557.22,277.53 L559.04,277.01 L560.86,276.49 L562.67,275.97 L564.49,275.46 L566.30,274.95 L568.12,274.44 L569.94,273.94 L571.75,273.46 L573.57,272.97 L575.38,272.50 L577.20,272.05 L577.20,288.05 L575.38,287.81 L573.57,287.61 L571.75,287.44 L569.94,287.31 L568.12,287.20 L566.30,287.12 L564.49,287.07 L562.67,287.05 L560.86,287.05 L559.04,287.07 L557.22,287.11 L555.41,287.17 L553.59,287.25 L551.78,287.34 L549.96,287.45 L548.14,287.57 L546.33,287.70 L544.51,287.84 L542.70,287.99 L540.88,288.14 L539.06,288.30 L537.25,288.46 L535.43,288.62 L533.62,288.78 L531.80,288.94 L529.98,289.10 L528.17,289.25 L526.35,289.40 L524.54,289.53 L522.72,289.66 L520.91,289.78 L519.09,289.88 L517.27,289.96 L515.46,290.04 L513.64,290.09 L511.83,290.12 L510.01,290.13 L508.19,290.12 L506.38,290.09 L504.56,290.02 L502.75,289.93 L500.93,289.82 L499.11,289.67 L497.30,289.48 L495.48,289.27 L493.67,289.01 L491.85,288.72 L490.03,288.40 L488.22,288.03 L486.40,287.61 L484.59,287.16 L482.77,286.65 L480.95,286.11 L479.14,285.51 L477.32,284.86 L475.51,284.16 L473.69,283.40 L471.87,282.59 L470.06,281.72 L468.24,280.80 L466.43,279.81 L464.61,278.76 L462.79,277.65 L460.98,276.48 L459.16,275.24 L457.35,273.93 L455.53,272.55 L453.71,271.10 L451.90,269.58 L450.08,267.99 L448.27,266.33 L446.45,264.59 L444.63,262.77 L442.82,260.87 L441.00,258.89 L439.19,256.83 L437.37,254.69 L435.55,252.47 L433.74,250.16 L431.92,247.76 L430.11,245.27 L428.29,242.69 L426.47,240.03 L424.66,237.27 L422.84,234.41 L421.03,231.46 L419.21,228.41 L417.39,225.27 L415.58,222.02 L413.76,218.68 L411.95,215.23 L410.13,211.68 L408.32,208.02 L406.50,204.25 L404.68,200.38 L402.87,196.39 L401.05,192.30 L399.24,188.09 L397.42,183.77 L395.60,179.33 L393.79,174.78 L391.97,170.11 L390.16,165.31 L388.34,160.40 L386.52,155.36 L384.71,150.20 L382.89,144.92 L381.08,139.50 L379.26,133.96 L377.44,128.29 L375.63,122.49 L373.81,116.55 L372.00,110.48 L370.18,104.28 L368.36,97.93 L366.55,91.45 L364.73,84.83 L362.92,78.07 L361.10,71.16 Z" fill="#999999" fill-opacity="0.4"/>
<path d="M361.10,68.66 L362.92,75.64 L364.73,82.48 L366.55,89.17 L368.36,95.71 L370.18,102.12 L372.00,108.39 L373.81,114.52 L375.63,120.51 L377.44,126.37 L379.26,132.10 L381.08,137.69 L382.89,143.15 L384.71,148.49 L386.52,153.69 L388.34,158.77 L390.16,163.73 L391.97,168.56 L393.79,173.27 L395.60,177.86 L397.42,182.33 L399.24,186.69 L401.05,190.92 L402.87,195.05 L404.68,199.06 L406.50,202.96 L408.32,206.75 L410.13,210.43 L411.95,214.01 L413.76,217.48 L415.58,220.84 L417.39,224.10 L419.21,227.27 L421.03,230.33 L422.84,233.29 L424.66,236.16 L426.47,238.93 L428.29,241.61 L430.11,244.20 L431.92,246.70 L433.74,249.10 L435.55,251.42 L437.37,253.65 L439.19,255.80 L441.00,257.87 L442.82,259.85 L444.63,261.75 L446.45,263.57 L448.27,265.32 L450.08,266.98 L451.90,268.58 L453.71,270.10 L455.53,271.55 L457.35,272.93 L459.16,274.24 L460.98,275.48 L462.79,276.65 L464.61,277.76 L466.43,278.81 L468.24,279.80 L470.06,280.72 L471.87,281.59 L473.69,282.40 L475.51,283.16 L477.32,283.86 L479.14,284.50 L480.95,285.10 L482.77,285.64 L484.59,286.14 L486.40,286.58 L488.22,286.99 L490.03,287.34 L491.85,287.66 L493.67,287.93 L495.48,288.17 L497.30,288.36 L499.11,288.52 L500.93,288.64 L502.75,288.72 L504.56,288.78 L506.38,288.80 L508.19,288.79 L510.01,288.75 L511.83,288.69 L513.64,288.60 L515.46,288.48 L517.27,288.35 L519.09,288.19 L520.91,288.01 L522.72,287.81 L524.54,287.59 L526.35,287.36 L528.17,287.11 L529.98,286.85 L531.80,286.58 L533.62,286.30 L535.43,286.01 L537.25,285.71 L539.06,285.40 L540.88,285.09 L542.70,284.78 L544.51,284.46 L546.33,284.15 L548.14,283.83 L549.96,283.52 L551.78,283.21 L553.59,282.91 L555.41,282.61 L557.22,282.32 L559.04,282.04 L560.86,281.77 L562.67,281.51 L564.49,281.26 L566.30,281.04 L568.12,280.82 L569.94,280.63 L571.75,280.45 L573.57,280.29 L575.38,280.16 L577.20,280.05" fill="none" stroke="#F8766D" stroke-width="1.4"/>
<path d="M361.10,53.92 L362.92,61.64 L364.73,69.18 L366.55,76.54 L368.36,83.72 L370.18,90.73 L372.00,97.56 L373.81,104.23 L375.63,110.73 L377.44,117.07 L379.26,123.25 L381.08,129.27 L382.89,135.13 L384.71,140.84 L386.52,146.40 L388.34,151.80 L390.16,157.07 L391.97,162.19 L393.79,167.17 L395.60,172.01 L397.42,176.71 L399.24,181.28 L401.05,185.72 L402.87,190.03 L404.68,194.22 L406.50,198.27 L408.32,202.21 L410.13,206.03 L411.95,209.73 L413.76,213.31 L415.58,216.78 L417.39,220.14 L419.21,223.39 L421.03,226.53 L422.84,229.57 L424.66,232.51 L426.47,235.34 L428.29,238.08 L430.11,240.72 L431.92,243.26 L433.74,245.72 L435.55,248.08 L437.37,250.36 L439.19,252.54 L441.00,254.65 L442.82,256.67 L444.63,258.61 L446.45,260.47 L448.27,262.26 L450.08,263.97 L451.90,265.60 L453.71,267.17 L455.53,268.66 L457.35,270.09 L459.16,271.45 L460.98,272.75 L462.79,273.98 L464.61,275.15 L466.43,276.27 L468.24,277.32 L470.06,278.32 L471.87,279.26 L473.69,280.16 L475.51,280.99 L477.32,281.78 L479.14,282.52 L480.95,283.21 L482.77,283.85 L484.59,284.45 L486.40,285.00 L488.22,285.51 L490.03,285.98 L491.85,286.40 L493.67,286.79 L495.48,287.14 L497.30,287.44 L499.11,287.72 L500.93,287.95 L502.75,288.16 L504.56,288.32 L506.38,288.46 L508.19,288.56 L510.01,288.64 L511.83,288.68 L513.64,288.70 L515.46,288.68 L517.27,288.64 L519.09,288.58 L520.91,288.49 L522.72,288.37 L524.54,288.23 L526.35,288.07 L528.17,287.88 L529.98,287.68 L531.80,287.45 L533.62,287.20 L535.43,286.93 L537.25,286.65 L539.06,286.34 L540.88,286.02 L542.70,285.68 L544.51,285.33 L546.33,284.96 L548.14,284.57 L549.96,284.17 L551.78,283.76 L553.59,283.33 L555.41,282.89 L557.22,282.44 L559.04,281.97 L560.86,281.49 L562.67,281.00 L564.49,280.50 L566.30,279.99 L568.12,279.47 L569.94,278.94 L571.75,278.40 L573.57,277.85 L575.38,277.29 L577.20,276.72 L577.20,292.72 L575.38,292.59 L573.57,292.48 L571.75,292.38 L569.94,292.30 L568.12,292.23 L566.30,292.17 L564.49,292.12 L562.67,292.08 L560.86,292.05 L559.04,292.03 L557.22,292.02 L555.41,292.01 L553.59,292.01 L551.78,292.02 L549.96,292.03 L548.14,292.04 L546.33,292.06 L544.51,292.08 L542.70,292.10 L540.88,292.12 L539.06,292.14 L537.25,292.15 L535.43,292.16 L533.62,292.17 L531.80,292.18 L529.98,292.17 L528.17,292.16 L526.35,292.14 L524.54,292.12 L522.72,292.08 L520.91,292.02 L519.09,291.96 L517.27,291.88 L515.46,291.79 L513.64,291.67 L511.83,291.54 L510.01,291.40 L508.19,291.23 L506.38,291.03 L504.56,290.82 L502.75,290.58 L500.93,290.31 L499.11,290.02 L497.30,289.69 L495.48,289.34 L493.67,288.95 L491.85,288.53 L490.03,288.08 L488.22,287.59 L486.40,287.06 L484.59,286.49 L482.77,285.88 L480.95,285.23 L479.14,284.53 L477.32,283.79 L475.51,283.00 L473.69,282.16 L471.87,281.26 L470.06,280.32 L468.24,279.32 L466.43,278.27 L464.61,277.15 L462.79,275.98 L460.98,274.75 L459.16,273.45 L457.35,272.09 L455.53,270.67 L453.71,269.18 L451.90,267.62 L450.08,265.98 L448.27,264.28 L446.45,262.50 L444.63,260.65 L442.82,258.71 L441.00,256.70 L439.19,254.61 L437.37,252.43 L435.55,250.17 L433.74,247.82 L431.92,245.39 L430.11,242.86 L428.29,240.24 L426.47,237.53 L424.66,234.71 L422.84,231.81 L421.03,228.80 L419.21,225.68 L417.39,222.47 L415.58,219.14 L413.76,215.71 L411.95,212.17 L410.13,208.52 L408.32,204.75 L406.50,200.86 L404.68,196.85 L402.87,192.73 L401.05,188.47 L399.24,184.10 L397.42,179.59 L395.60,174.95 L393.79,170.19 L391.97,165.28 L390.16,160.24 L388.34,155.06 L386.52,149.74 L384.71,144.27 L382.89,138.65 L381.08,132.89 L379.26,126.98 L377.44,120.91 L375.63,114.68 L373.81,108.29 L372.00,101.75 L370.18,95.03 L368.36,88.16 L366.55,81.11 L364.73,73.89 L362.92,66.49 L361.10,58.92 Z" fill="#999999" fill-opacity="0.4"/>
<path d="M361.10,56.42 L362.92,64.07 L364.73,71.53 L366.55,78.82 L368.36,85.94 L370.18,92.88 L372.00,99.66 L373.81,106.26 L375.63,112.71 L377.44,118.99 L379.26,125.11 L381.08,131.08 L382.89,136.89 L384.71,142.55 L386.52,148.07 L388.34,153.43 L390.16,158.65 L391.97,163.74 L393.79,168.68 L395.60,173.48 L397.42,178.15 L399.24,182.69 L401.05,187.10 L402.87,191.38 L404.68,195.53 L406.50,199.57 L408.32,203.48 L410.13,207.27 L411.95,210.95 L413.76,214.51 L415.58,217.96 L417.39,221.30 L419.21,224.54 L421.03,227.66 L422.84,230.69 L424.66,233.61 L426.47,236.43 L428.29,239.16 L430.11,241.79 L431.92,244.33 L433.74,246.77 L435.55,249.13 L437.37,251.39 L439.19,253.58 L441.00,255.67 L442.82,257.69 L444.63,259.63 L446.45,261.49 L448.27,263.27 L450.08,264.98 L451.90,266.61 L453.71,268.17 L455.53,269.67 L457.35,271.09 L459.16,272.45 L460.98,273.75 L462.79,274.98 L464.61,276.15 L466.43,277.27 L468.24,278.32 L470.06,279.32 L471.87,280.26 L473.69,281.16 L475.51,282.00 L477.32,282.78 L479.14,283.52 L480.95,284.22 L482.77,284.87 L484.59,285.47 L486.40,286.03 L488.22,286.55 L490.03,287.03 L491.85,287.47 L493.67,287.87 L495.48,288.24 L497.30,288.57 L499.11,288.87 L500.93,289.13 L502.75,289.37 L504.56,289.57 L506.38,289.75 L508.19,289.90 L510.01,290.02 L511.83,290.11 L513.64,290.19 L515.46,290.24 L517.27,290.26 L519.09,290.27 L520.91,290.26 L522.72,290.22 L524.54,290.17 L526.35,290.11 L528.17,290.02 L529.98,289.92 L531.80,289.81 L533.62,289.69 L535.43,289.55 L537.25,289.40 L539.06,289.24 L540.88,289.07 L542.70,288.89 L544.51,288.70 L546.33,288.51 L548.14,288.31 L549.96,288.10 L551.78,287.89 L553.59,287.67 L555.41,287.45 L557.22,287.23 L559.04,287.00 L560.86,286.77 L562.67,286.54 L564.49,286.31 L566.30,286.08 L568.12,285.85 L569.94,285.62 L571.75,285.39 L573.57,285.16 L575.38,284.94 L577.20,284.72" fill="none" stroke="#A3A500" stroke-width="1.4" stroke-dasharray="2.16 2.16"/>
<path d="M361.10,41.71 L362.92,49.69 L364.73,57.49 L366.55,65.12 L368.36,72.58 L370.18,79.87 L372.00,87.00 L373.81,93.96 L375.63,100.76 L377.44,107.40 L379.26,113.88 L381.08,120.21 L382.89,126.38 L384.71,132.39 L386.52,138.26 L388.34,143.98 L390.16,149.56 L391.97,154.99 L393.79,160.28 L395.60,165.43 L397.42,170.44 L399.24,175.31 L401.05,180.05 L402.87,184.66 L404.68,189.14 L406.50,193.48 L408.32,197.71 L410.13,201.81 L411.95,205.78 L413.76,209.64 L415.58,213.37 L417.39,216.99 L419.21,220.50 L421.03,223.89 L422.84,227.17 L424.66,230.34 L426.47,233.41 L428.29,236.37 L430.11,239.22 L431.92,241.98 L433.74,244.63 L435.55,247.19 L437.37,249.65 L439.19,252.02 L441.00,254.30 L442.82,256.48 L444.63,258.58 L446.45,260.59 L448.27,262.51 L450.08,264.35 L451.90,266.12 L453.71,267.80 L455.53,269.40 L457.35,270.93 L459.16,272.38 L460.98,273.77 L462.79,275.08 L464.61,276.32 L466.43,277.50 L468.24,278.61 L470.06,279.66 L471.87,280.65 L473.69,281.58 L475.51,282.45 L477.32,283.26 L479.14,284.01 L480.95,284.72 L482.77,285.37 L484.59,285.96 L486.40,286.51 L488.22,287.01 L490.03,287.47 L491.85,287.88 L493.67,288.24 L495.48,288.56 L497.30,288.84 L499.11,289.08 L500.93,289.29 L502.75,289.45 L504.56,289.59 L506.38,289.68 L508.19,289.75 L510.01,289.78 L511.83,289.78 L513.64,289.76 L515.46,289.71 L517.27,289.63 L519.09,289.53 L520.91,289.40 L522.72,289.26 L524.54,289.09 L526.35,288.91 L528.17,288.70 L529.98,288.49 L531.80,288.25 L533.62,288.01 L535.43,287.75 L537.25,287.48 L539.06,287.20 L540.88,286.91 L542.70,286.62 L544.51,286.32 L546.33,286.01 L548.14,285.70 L549.96,285.39 L551.78,285.09 L553.59,284.78 L555.41,284.47 L557.22,284.17 L559.04,283.87 L560.86,283.57 L562.67,283.29 L564.49,283.01 L566.30,282.74 L568.12,282.49 L569.94,282.24 L571.75,282.01 L573.57,281.79 L575.38,281.59 L577.20,281.41 L577.20,299.41 L575.38,298.80 L573.57,298.23 L571.75,297.71 L569.94,297.23 L568.12,296.78 L566.30,296.38 L564.49,296.00 L562.67,295.66 L560.86,295.36 L559.04,295.08 L557.22,294.83 L555.41,294.61 L553.59,294.41 L551.78,294.24 L549.96,294.09 L548.14,293.96 L546.33,293.84 L544.51,293.74 L542.70,293.66 L540.88,293.59 L539.06,293.53 L537.25,293.48 L535.43,293.44 L533.62,293.40 L531.80,293.37 L529.98,293.34 L528.17,293.31 L526.35,293.28 L524.54,293.25 L522.72,293.21 L520.91,293.16 L519.09,293.11 L517.27,293.04 L515.46,292.97 L513.64,292.88 L511.83,292.77 L510.01,292.65 L508.19,292.50 L506.38,292.34 L504.56,292.15 L502.75,291.93 L500.93,291.69 L499.11,291.43 L497.30,291.13 L495.48,290.79 L493.67,290.43 L491.85,290.02 L490.03,289.58 L488.22,289.10 L486.40,288.58 L484.59,288.01 L482.77,287.40 L480.95,286.74 L479.14,286.03 L477.32,285.26 L475.51,284.45 L473.69,283.58 L471.87,282.65 L470.06,281.66 L468.24,280.61 L466.43,279.50 L464.61,278.32 L462.79,277.08 L460.98,275.77 L459.16,274.39 L457.35,272.93 L455.53,271.41 L453.71,269.81 L451.90,268.13 L450.08,266.37 L448.27,264.53 L446.45,262.62 L444.63,260.61 L442.82,258.52 L441.00,256.35 L439.19,254.08 L437.37,251.73 L435.55,249.28 L433.74,246.74 L431.92,244.10 L430.11,241.37 L428.29,238.53 L426.47,235.59 L424.66,232.55 L422.84,229.41 L421.03,226.15 L419.21,222.79 L417.39,219.32 L415.58,215.74 L413.76,212.04 L411.95,208.23 L410.13,204.29 L408.32,200.24 L406.50,196.07 L404.68,191.77 L402.87,187.35 L401.05,182.80 L399.24,178.12 L397.42,173.31 L395.60,168.37 L393.79,163.30 L391.97,158.08 L390.16,152.73 L388.34,147.24 L386.52,141.61 L384.71,135.83 L382.89,129.90 L381.08,123.83 L379.26,117.61 L377.44,111.23 L375.63,104.71 L373.81,98.02 L372.00,91.18 L370.18,84.18 L368.36,77.02 L366.55,69.69 L364.73,62.20 L362.92,54.54 L361.10,46.71 Z" fill="#999999" fill-opacity="0.4"/>
<path d="M361.10,44.21 L362.92,52.11 L364.73,59.84 L366.55,67.41 L368.36,74.80 L370.18,82.03 L372.00,89.09 L373.81,95.99 L375.63,102.73 L377.44,109.32 L379.26,115.74 L381.08,122.02 L382.89,128.14 L384.71,134.11 L386.52,139.93 L388.34,145.61 L390.16,151.15 L391.97,156.54 L393.79,161.79 L395.60,166.90 L397.42,171.88 L399.24,176.72 L401.05,181.43 L402.87,186.00 L404.68,190.45 L406.50,194.78 L408.32,198.97 L410.13,203.05 L411.95,207.00 L413.76,210.84 L415.58,214.56 L417.39,218.16 L419.21,221.65 L421.03,225.02 L422.84,228.29 L424.66,231.45 L426.47,234.50 L428.29,237.45 L430.11,240.30 L431.92,243.04 L433.74,245.69 L435.55,248.24 L437.37,250.69 L439.19,253.05 L441.00,255.32 L442.82,257.50 L444.63,259.60 L446.45,261.60 L448.27,263.52 L450.08,265.36 L451.90,267.12 L453.71,268.80 L455.53,270.40 L457.35,271.93 L459.16,273.39 L460.98,274.77 L462.79,276.08 L464.61,277.32 L466.43,278.50 L468.24,279.61 L470.06,280.66 L471.87,281.65 L473.69,282.58 L475.51,283.45 L477.32,284.26 L479.14,285.02 L480.95,285.73 L482.77,286.38 L484.59,286.99 L486.40,287.54 L488.22,288.06 L490.03,288.52 L491.85,288.95 L493.67,289.33 L495.48,289.68 L497.30,289.98 L499.11,290.25 L500.93,290.49 L502.75,290.69 L504.56,290.87 L506.38,291.01 L508.19,291.12 L510.01,291.21 L511.83,291.28 L513.64,291.32 L515.46,291.34 L517.27,291.34 L519.09,291.32 L520.91,291.28 L522.72,291.23 L524.54,291.17 L526.35,291.09 L528.17,291.01 L529.98,290.91 L531.80,290.81 L533.62,290.71 L535.43,290.59 L537.25,290.48 L539.06,290.37 L540.88,290.25 L542.70,290.14 L544.51,290.03 L546.33,289.93 L548.14,289.83 L549.96,289.74 L551.78,289.66 L553.59,289.59 L555.41,289.54 L557.22,289.50 L559.04,289.47 L560.86,289.47 L562.67,289.48 L564.49,289.51 L566.30,289.56 L568.12,289.64 L569.94,289.73 L571.75,289.86 L573.57,290.01 L575.38,290.20 L577.20,290.41" fill="none" stroke="#00BF7D" stroke-width="1.4" stroke-dasharray="4.32 2.16"/>
<path d="M361.10,32.05 L362.92,39.73 L364.73,47.25 L366.55,54.64 L368.36,61.88 L370.18,68.99 L372.00,75.95 L373.81,82.77 L375.63,89.46 L377.44,96.01 L379.26,102.43 L381.08,108.71 L382.89,114.86 L384.71,120.88 L386.52,126.77 L388.34,132.53 L390.16,138.17 L391.97,143.67 L393.79,149.05 L395.60,154.31 L397.42,159.45 L399.24,164.46 L401.05,169.35 L402.87,174.13 L404.68,178.78 L406.50,183.32 L408.32,187.75 L410.13,192.06 L411.95,196.26 L413.76,200.34 L415.58,204.32 L417.39,208.18 L419.21,211.94 L421.03,215.59 L422.84,219.14 L424.66,222.58 L426.47,225.92 L428.29,229.16 L430.11,232.30 L431.92,235.34 L433.74,238.28 L435.55,241.12 L437.37,243.87 L439.19,246.53 L441.00,249.09 L442.82,251.56 L444.63,253.95 L446.45,256.24 L448.27,258.44 L450.08,260.56 L451.90,262.60 L453.71,264.55 L455.53,266.42 L457.35,268.21 L459.16,269.91 L460.98,271.54 L462.79,273.10 L464.61,274.58 L466.43,275.98 L468.24,277.31 L470.06,278.57 L471.87,279.76 L473.69,280.88 L475.51,281.93 L477.32,282.91 L479.14,283.83 L480.95,284.68 L482.77,285.47 L484.59,286.20 L486.40,286.86 L488.22,287.47 L490.03,288.01 L491.85,288.50 L493.67,288.93 L495.48,289.30 L497.30,289.62 L499.11,289.88 L500.93,290.09 L502.75,290.25 L504.56,290.36 L506.38,290.41 L508.19,290.42 L510.01,290.39 L511.83,290.30 L513.64,290.17 L515.46,290.00 L517.27,289.79 L519.09,289.53 L520.91,289.23 L522.72,288.89 L524.54,288.52 L526.35,288.11 L528.17,287.66 L529.98,287.18 L531.80,286.66 L533.62,286.11 L535.43,285.53 L537.25,284.92 L539.06,284.28 L540.88,283.62 L542.70,282.92 L544.51,282.20 L546.33,281.46 L548.14,280.70 L549.96,279.91 L551.78,279.10 L553.59,278.27 L555.41,277.43 L557.22,276.57 L559.04,275.69 L560.86,274.80 L562.67,273.89 L564.49,272.97 L566.30,272.04 L568.12,271.10 L569.94,270.16 L571.75,269.20 L573.57,268.24 L575.38,267.28 L577.20,266.31 L577.20,284.31 L575.38,284.48 L573.57,284.68 L571.75,284.90 L569.94,285.14 L568.12,285.40 L566.30,285.67 L564.49,285.96 L562.67,286.26 L560.86,286.58 L559.04,286.90 L557.22,287.23 L555.41,287.57 L553.59,287.91 L551.78,288.26 L549.96,288.60 L548.14,288.95 L546.33,289.29 L544.51,289.63 L542.70,289.97 L540.88,290.30 L539.06,290.62 L537.25,290.93 L535.43,291.22 L533.62,291.51 L531.80,291.78 L529.98,292.03 L528.17,292.27 L526.35,292.48 L524.54,292.67 L522.72,292.84 L520.91,292.99 L519.09,293.11 L517.27,293.20 L515.46,293.26 L513.64,293.29 L511.83,293.29 L510.01,293.25 L508.19,293.18 L506.38,293.07 L504.56,292.92 L502.75,292.73 L500.93,292.50 L499.11,292.22 L497.30,291.90 L495.48,291.53 L493.67,291.11 L491.85,290.65 L490.03,290.13 L488.22,289.56 L486.40,288.93 L484.59,288.25 L482.77,287.51 L480.95,286.71 L479.14,285.84 L477.32,284.92 L475.51,283.93 L473.69,282.88 L471.87,281.76 L470.06,280.57 L468.24,279.31 L466.43,277.98 L464.61,276.58 L462.79,275.10 L460.98,273.55 L459.16,271.92 L457.35,270.21 L455.53,268.42 L453.71,266.56 L451.90,264.61 L450.08,262.58 L448.27,260.47 L446.45,258.27 L444.63,255.98 L442.82,253.61 L441.00,251.14 L439.19,248.59 L437.37,245.95 L435.55,243.21 L433.74,240.38 L431.92,237.46 L430.11,234.44 L428.29,231.32 L426.47,228.11 L424.66,224.79 L422.84,221.38 L421.03,217.86 L419.21,214.24 L417.39,210.51 L415.58,206.68 L413.76,202.75 L411.95,198.70 L410.13,194.55 L408.32,190.28 L406.50,185.91 L404.68,181.42 L402.87,176.82 L401.05,172.11 L399.24,167.27 L397.42,162.33 L395.60,157.26 L393.79,152.07 L391.97,146.77 L390.16,141.34 L388.34,135.79 L386.52,130.11 L384.71,124.31 L382.89,118.39 L381.08,112.34 L379.26,106.16 L377.44,99.85 L375.63,93.41 L373.81,86.83 L372.00,80.13 L370.18,73.29 L368.36,66.32 L366.55,59.21 L364.73,51.96 L362.92,44.58 L361.10,37.05 Z" fill="#999999" fill-opacity="0.4"/>
<path d="M361.10,34.55 L362.92,42.15 L364.73,49.61 L366.55,56.92 L368.36,64.10 L370.18,71.14 L372.00,78.04 L373.81,84.80 L375.63,91.43 L377.44,97.93 L379.26,104.29 L381.08,110.52 L382.89,116.63 L384.71,122.60 L386.52,128.44 L388.34,134.16 L390.16,139.75 L391.97,145.22 L393.79,150.56 L395.60,155.79 L397.42,160.89 L399.24,165.87 L401.05,170.73 L402.87,175.47 L404.68,180.10 L406.50,184.62 L408.32,189.02 L410.13,193.30 L411.95,197.48 L413.76,201.54 L415.58,205.50 L417.39,209.35 L419.21,213.09 L421.03,216.73 L422.84,220.26 L424.66,223.69 L426.47,227.02 L428.29,230.24 L430.11,233.37 L431.92,236.40 L433.74,239.33 L435.55,242.17 L437.37,244.91 L439.19,247.56 L441.00,250.12 L442.82,252.59 L444.63,254.96 L446.45,257.25 L448.27,259.45 L450.08,261.57 L451.90,263.60 L453.71,265.55 L455.53,267.42 L457.35,269.21 L459.16,270.92 L460.98,272.55 L462.79,274.10 L464.61,275.58 L466.43,276.98 L468.24,278.31 L470.06,279.57 L471.87,280.76 L473.69,281.88 L475.51,282.93 L477.32,283.92 L479.14,284.84 L480.95,285.69 L482.77,286.49 L484.59,287.22 L486.40,287.90 L488.22,288.51 L490.03,289.07 L491.85,289.57 L493.67,290.02 L495.48,290.41 L497.30,290.76 L499.11,291.05 L500.93,291.29 L502.75,291.49 L504.56,291.64 L506.38,291.74 L508.19,291.80 L510.01,291.82 L511.83,291.80 L513.64,291.73 L515.46,291.63 L517.27,291.49 L519.09,291.32 L520.91,291.11 L522.72,290.87 L524.54,290.60 L526.35,290.29 L528.17,289.96 L529.98,289.60 L531.80,289.22 L533.62,288.81 L535.43,288.38 L537.25,287.92 L539.06,287.45 L540.88,286.96 L542.70,286.45 L544.51,285.92 L546.33,285.38 L548.14,284.82 L549.96,284.26 L551.78,283.68 L553.59,283.09 L555.41,282.50 L557.22,281.90 L559.04,281.29 L560.86,280.69 L562.67,280.08 L564.49,279.47 L566.30,278.86 L568.12,278.25 L569.94,277.65 L571.75,277.05 L573.57,276.46 L575.38,275.88 L577.20,275.31" fill="none" stroke="#00B0F6" stroke-width="1.4" stroke-dasharray="4.32 4.32"/>
<path d="M361.10,13.23 L362.92,20.78 L364.73,28.20 L366.55,35.50 L368.36,42.67 L370.18,49.72 L372.00,56.65 L373.81,63.45 L375.63,70.14 L377.44,76.71 L379.26,83.16 L381.08,89.49 L382.89,95.70 L384.71,101.80 L386.52,107.79 L388.34,113.66 L390.16,119.43 L391.97,125.08 L393.79,130.62 L395.60,136.05 L397.42,141.37 L399.24,146.59 L401.05,151.70 L402.87,156.70 L404.68,161.60 L406.50,166.40 L408.32,171.09 L410.13,175.68 L411.95,180.17 L413.76,184.56 L415.58,188.85 L417.39,193.04 L419.21,197.14 L421.03,201.13 L422.84,205.03 L424.66,208.84 L426.47,212.55 L428.29,216.17 L430.11,219.69 L431.92,223.13 L433.74,226.47 L435.55,229.72 L437.37,232.88 L439.19,235.95 L441.00,238.93 L442.82,241.83 L444.63,244.63 L446.45,247.36 L448.27,249.99 L450.08,252.54 L451.90,255.01 L453.71,257.39 L455.53,259.69 L457.35,261.90 L459.16,264.04 L460.98,266.09 L462.79,268.06 L464.61,269.95 L466.43,271.77 L468.24,273.50 L470.06,275.15 L471.87,276.73 L473.69,278.23 L475.51,279.65 L477.32,280.99 L479.14,282.26 L480.95,283.45 L482.77,284.56 L484.59,285.60 L486.40,286.56 L488.22,287.44 L490.03,288.25 L491.85,288.98 L493.67,289.63 L495.48,290.21 L497.30,290.71 L499.11,291.14 L500.93,291.49 L502.75,291.77 L504.56,291.97 L506.38,292.10 L508.19,292.15 L510.01,292.12 L511.83,292.02 L513.64,291.85 L515.46,291.60 L517.27,291.27 L519.09,290.87 L520.91,290.40 L522.72,289.85 L524.54,289.22 L526.35,288.52 L528.17,287.75 L529.98,286.89 L531.80,285.97 L533.62,284.96 L535.43,283.89 L537.25,282.73 L539.06,281.50 L540.88,280.20 L542.70,278.82 L544.51,277.36 L546.33,275.82 L548.14,274.21 L549.96,272.53 L551.78,270.76 L553.59,268.92 L555.41,267.00 L557.22,265.00 L559.04,262.93 L560.86,260.78 L562.67,258.55 L564.49,256.24 L566.30,253.85 L568.12,251.39 L569.94,248.84 L571.75,246.22 L573.57,243.51 L575.38,240.73 L577.20,237.86 L577.20,257.86 L575.38,259.84 L573.57,261.76 L571.75,263.63 L569.94,265.45 L568.12,267.22 L566.30,268.94 L564.49,270.61 L562.67,272.22 L560.86,273.78 L559.04,275.29 L557.22,276.75 L555.41,278.16 L553.59,279.51 L551.78,280.81 L549.96,282.06 L548.14,283.25 L546.33,284.38 L544.51,285.47 L542.70,286.49 L540.88,287.46 L539.06,288.38 L537.25,289.24 L535.43,290.04 L533.62,290.79 L531.80,291.48 L529.98,292.11 L528.17,292.68 L526.35,293.19 L524.54,293.65 L522.72,294.04 L520.91,294.38 L519.09,294.65 L517.27,294.86 L515.46,295.02 L513.64,295.10 L511.83,295.13 L510.01,295.10 L508.19,295.00 L506.38,294.83 L504.56,294.60 L502.75,294.31 L500.93,293.95 L499.11,293.52 L497.30,293.03 L495.48,292.47 L493.67,291.84 L491.85,291.14 L490.03,290.38 L488.22,289.54 L486.40,288.63 L484.59,287.65 L482.77,286.60 L480.95,285.47 L479.14,284.27 L477.32,283.00 L475.51,281.65 L473.69,280.23 L471.87,278.73 L470.06,277.15 L468.24,275.50 L466.43,273.77 L464.61,271.95 L462.79,270.06 L460.98,268.09 L459.16,266.04 L457.35,263.91 L455.53,261.69 L453.71,259.40 L451.90,257.02 L450.08,254.56 L448.27,252.01 L446.45,249.38 L444.63,246.67 L442.82,243.87 L441.00,240.99 L439.19,238.01 L437.37,234.95 L435.55,231.81 L433.74,228.57 L431.92,225.25 L430.11,221.84 L428.29,218.33 L426.47,214.74 L424.66,211.05 L422.84,207.27 L421.03,203.40 L419.21,199.43 L417.39,195.37 L415.58,191.21 L413.76,186.96 L411.95,182.61 L410.13,178.17 L408.32,173.62 L406.50,168.98 L404.68,164.24 L402.87,159.39 L401.05,154.45 L399.24,149.40 L397.42,144.25 L395.60,138.99 L393.79,133.64 L391.97,128.17 L390.16,122.60 L388.34,116.92 L386.52,111.13 L384.71,105.24 L382.89,99.23 L381.08,93.11 L379.26,86.88 L377.44,80.54 L375.63,74.09 L373.81,67.52 L372.00,60.83 L370.18,54.03 L368.36,47.11 L366.55,40.07 L364.73,32.91 L362.92,25.63 L361.10,18.23 Z" fill="#999999" fill-opacity="0.4"/>
<path d="M361.10,15.73 L362.92,23.20 L364.73,30.55 L366.55,37.78 L368.36,44.89 L370.18,51.87 L372.00,58.74 L373.81,65.48 L375.63,72.11 L377.44,78.62 L379.26,85.02 L381.08,91.30 L382.89,97.47 L384.71,103.52 L386.52,109.46 L388.34,115.29 L390.16,121.01 L391.97,126.62 L393.79,132.13 L395.60,137.52 L397.42,142.81 L399.24,147.99 L401.05,153.07 L402.87,158.05 L404.68,162.92 L406.50,167.69 L408.32,172.36 L410.13,176.92 L411.95,181.39 L413.76,185.76 L415.58,190.03 L417.39,194.21 L419.21,198.28 L421.03,202.27 L422.84,206.15 L424.66,209.94 L426.47,213.64 L428.29,217.25 L430.11,220.76 L431.92,224.19 L433.74,227.52 L435.55,230.76 L437.37,233.92 L439.19,236.98 L441.00,239.96 L442.82,242.85 L444.63,245.65 L446.45,248.37 L448.27,251.00 L450.08,253.55 L451.90,256.01 L453.71,258.39 L455.53,260.69 L457.35,262.91 L459.16,265.04 L460.98,267.09 L462.79,269.06 L464.61,270.95 L466.43,272.77 L468.24,274.50 L470.06,276.15 L471.87,277.73 L473.69,279.23 L475.51,280.65 L477.32,282.00 L479.14,283.27 L480.95,284.46 L482.77,285.58 L484.59,286.62 L486.40,287.59 L488.22,288.49 L490.03,289.31 L491.85,290.06 L493.67,290.74 L495.48,291.34 L497.30,291.87 L499.11,292.33 L500.93,292.72 L502.75,293.04 L504.56,293.29 L506.38,293.46 L508.19,293.57 L510.01,293.61 L511.83,293.58 L513.64,293.48 L515.46,293.31 L517.27,293.07 L519.09,292.76 L520.91,292.39 L522.72,291.94 L524.54,291.43 L526.35,290.86 L528.17,290.21 L529.98,289.50 L531.80,288.72 L533.62,287.88 L535.43,286.96 L537.25,285.99 L539.06,284.94 L540.88,283.83 L542.70,282.65 L544.51,281.41 L546.33,280.10 L548.14,278.73 L549.96,277.29 L551.78,275.79 L553.59,274.22 L555.41,272.58 L557.22,270.88 L559.04,269.11 L560.86,267.28 L562.67,265.38 L564.49,263.42 L566.30,261.40 L568.12,259.30 L569.94,257.15 L571.75,254.92 L573.57,252.64 L575.38,250.28 L577.20,247.86" fill="none" stroke="#E76BF3" stroke-width="1.4" stroke-dasharray="1.08 3.24"/></g>
<line x1="93.50" y1="312.2" x2="93.50" y2="314.20" stroke="#666666" stroke-width="0.9"/>
<text x="93.50" y="325.6" font-size="11.5" class="tl" text-anchor="middle">2</text>
<line x1="159.94" y1="312.2" x2="159.94" y2="314.20" stroke="#666666" stroke-width="0.9"/>
<text x="159.94" y="325.6" font-size="11.5" class="tl" text-anchor="middle">4</text>
<line x1="226.38" y1="312.2" x2="226.38" y2="314.20" stroke="#666666" stroke-width="0.9"/>
<text x="226.38" y="325.6" font-size="11.5" class="tl" text-anchor="middle">6</text>
<line x1="56.60" y1="290.40" x2="58.6" y2="290.40" stroke="#666666" stroke-width="0.9"/>
<text x="55.2" y="294.90" font-size="11.5" class="tl" text-anchor="end">800</text>
<line x1="56.60" y1="237.58" x2="58.6" y2="237.58" stroke="#666666" stroke-width="0.9"/>
<text x="55.2" y="242.08" font-size="11.5" class="tl" text-anchor="end">900</text>
<line x1="56.60" y1="184.76" x2="58.6" y2="184.76" stroke="#666666" stroke-width="0.9"/>
<text x="55.2" y="189.26" font-size="11.5" class="tl" text-anchor="end">1000</text>
<line x1="56.60" y1="131.94" x2="58.6" y2="131.94" stroke="#666666" stroke-width="0.9"/>
<text x="55.2" y="136.44" font-size="11.5" class="tl" text-anchor="end">1100</text>
<line x1="56.60" y1="79.12" x2="58.6" y2="79.12" stroke="#666666" stroke-width="0.9"/>
<text x="55.2" y="83.62" font-size="11.5" class="tl" text-anchor="end">1200</text>
<line x1="56.60" y1="26.30" x2="58.6" y2="26.30" stroke="#666666" stroke-width="0.9"/>
<text x="55.2" y="30.80" font-size="11.5" class="tl" text-anchor="end">1300</text>
<text transform="translate(174.65,340.9) scale(1,1.04)" x="0" y="0" font-size="15.2" class="tt" text-anchor="middle">Frequency (Zipf)</text>
<text transform="translate(17.6,156.80) rotate(-90) scale(1,1.04)" x="0" y="0" font-size="15.2" class="tt" text-anchor="middle">Predicted RT</text>
<line x1="385.50" y1="312.2" x2="385.50" y2="314.20" stroke="#666666" stroke-width="0.9"/>
<text x="385.50" y="325.6" font-size="11.5" class="tl" text-anchor="middle">2</text>
<line x1="454.20" y1="312.2" x2="454.20" y2="314.20" stroke="#666666" stroke-width="0.9"/>
<text x="454.20" y="325.6" font-size="11.5" class="tl" text-anchor="middle">4</text>
<line x1="522.90" y1="312.2" x2="522.90" y2="314.20" stroke="#666666" stroke-width="0.9"/>
<text x="522.90" y="325.6" font-size="11.5" class="tl" text-anchor="middle">6</text>
<line x1="348.80" y1="21.30" x2="350.8" y2="21.30" stroke="#666666" stroke-width="0.9"/>
<text x="346.0" y="25.80" font-size="11.5" class="tl" text-anchor="end">0.0</text>
<line x1="348.80" y1="103.15" x2="350.8" y2="103.15" stroke="#666666" stroke-width="0.9"/>
<text x="346.0" y="107.65" font-size="11.5" class="tl" text-anchor="end">-0.2</text>
<line x1="348.80" y1="185.00" x2="350.8" y2="185.00" stroke="#666666" stroke-width="0.9"/>
<text x="346.0" y="189.50" font-size="11.5" class="tl" text-anchor="end">-0.4</text>
<line x1="348.80" y1="266.85" x2="350.8" y2="266.85" stroke="#666666" stroke-width="0.9"/>
<text x="346.0" y="271.35" font-size="11.5" class="tl" text-anchor="end">-0.6</text>
<text transform="translate(469.80,340.9) scale(1,1.04)" x="0" y="0" font-size="15.2" class="tt" text-anchor="middle">Frequency (Zipf)</text>
<text transform="translate(314.4,156.80) rotate(-90) scale(1,1.04)" x="0" y="0" font-size="15.2" class="tt" text-anchor="middle">Predicted z-score</text>
<text x="601.5" y="127.9" font-size="15" class="tt">Age_group</text>
<rect x="601.6" y="135.6" width="12.8" height="64.7" fill="#CACACA"/>
<line x1="602.6" y1="141.60" x2="613.4" y2="141.60" stroke="#F8766D" stroke-width="1.4"/>
<text x="621.8" y="146.20" font-size="11.7" class="tt">fifty</text>
<line x1="602.6" y1="154.55" x2="613.4" y2="154.55" stroke="#A3A500" stroke-width="1.4" stroke-dasharray="2.16 2.16"/>
<text x="621.8" y="159.15" font-size="11.7" class="tt">forty</text>
<line x1="602.6" y1="167.50" x2="613.4" y2="167.50" stroke="#00BF7D" stroke-width="1.4" stroke-dasharray="4.32 2.16"/>
<text x="621.8" y="172.10" font-size="11.7" class="tt">thirty</text>
<line x1="602.6" y1="180.45" x2="613.4" y2="180.45" stroke="#00B0F6" stroke-width="1.4" stroke-dasharray="4.32 4.32"/>
<text x="621.8" y="185.05" font-size="11.7" class="tt">twenty_four</text>
<line x1="602.6" y1="193.40" x2="613.4" y2="193.40" stroke="#E76BF3" stroke-width="1.4" stroke-dasharray="1.08 3.24"/>
<text x="621.8" y="198.00" font-size="11.7" class="tt">eighteen</text>
</g></svg></body></html>
